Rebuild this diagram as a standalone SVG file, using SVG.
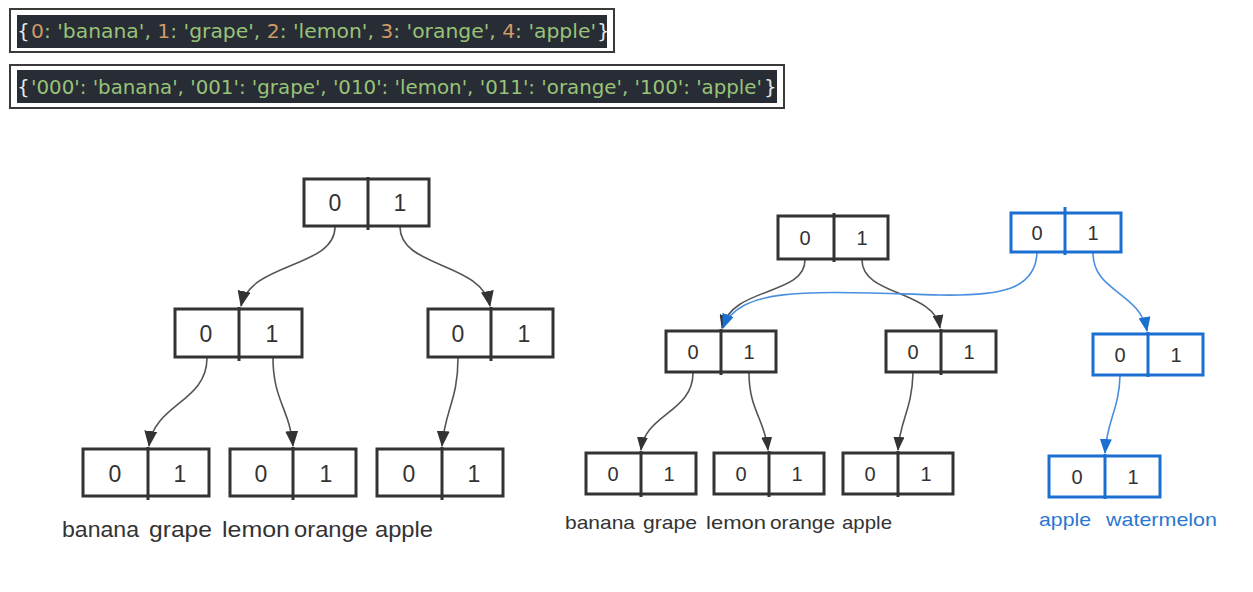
<svg xmlns="http://www.w3.org/2000/svg" width="1253" height="592" viewBox="0 0 1253 592">
<defs>
<style>
.frame{fill:#fff;stroke:#3a3a3a;stroke-width:2}
.code{fill:#282c34}
.ct{font-family:"DejaVu Sans",sans-serif;font-size:20px;fill:#98c379}
.ct2{font-size:19.3px}
.br{font-family:"DejaVu Sans",sans-serif;font-size:20px;fill:#e6e6e6}
.num{fill:#d19a66}
.kb{fill:none;stroke:#333;stroke-width:3}
.bb{fill:none;stroke:#1a6fd0;stroke-width:3}
.dk{stroke:#333;stroke-width:3}
.db{stroke:#1a6fd0;stroke-width:3}
.dg{font-family:"Liberation Sans",Arial,sans-serif;fill:#333;text-anchor:middle}
.dgl{font-size:23px}
.dgr{font-size:20px}
.lab{font-family:"Liberation Sans",Arial,sans-serif;fill:#333}
.labl{font-size:22px}
.labr{font-size:19px}
.labb{font-size:19px;fill:#2a78d0}
.ck{fill:none;stroke:#555;stroke-width:1.6}
.cb{fill:none;stroke:#4a8fde;stroke-width:1.6}
</style>
<marker id="ahk" viewBox="0 0 16 13" refX="15" refY="6.5" markerWidth="16" markerHeight="13" orient="auto" markerUnits="userSpaceOnUse"><path d="M0,0 L16,6.5 L0,13 z" fill="#333"/></marker>
<marker id="ahks" viewBox="0 0 14 11" refX="13" refY="5.5" markerWidth="14" markerHeight="11" orient="auto" markerUnits="userSpaceOnUse"><path d="M0,0 L14,5.5 L0,11 z" fill="#333"/></marker>
<marker id="ahb" viewBox="0 0 15 12" refX="14" refY="6" markerWidth="15" markerHeight="12" orient="auto" markerUnits="userSpaceOnUse"><path d="M0,0 L15,6 L0,12 z" fill="#1a6fd0"/></marker>
</defs>
<rect width="1253" height="592" fill="#fff"/>

<g id="code1">
<rect class="frame" x="10" y="9" width="604" height="43"/>
<rect class="code" x="17" y="15" width="590" height="33"/>
<text class="br" x="17" y="38">{</text>
<text class="ct" x="31" y="38" textLength="565" lengthAdjust="spacingAndGlyphs"><tspan class="num">0</tspan>: 'banana', <tspan class="num">1</tspan>: 'grape', <tspan class="num">2</tspan>: 'lemon', <tspan class="num">3</tspan>: 'orange', <tspan class="num">4</tspan>: 'apple'</text>
<text class="br" x="597" y="38">}</text>
</g>
<g id="code2">
<rect class="frame" x="10" y="65" width="774" height="43"/>
<rect class="code" x="17" y="70" width="760" height="33"/>
<text class="br" x="17" y="94">{</text>
<text class="ct ct2" x="31" y="94" textLength="731" lengthAdjust="spacingAndGlyphs">'000': 'banana', '001': 'grape', '010': 'lemon', '011': 'orange', '100': 'apple'</text>
<text class="br" x="764" y="94">}</text>
</g>

<g id="connectors">
<path class="ck" d="M335 227 C335 268 250 262 241 306" marker-end="url(#ahk)"/>
<path class="ck" d="M400 227 C400 268 482 262 490 306" marker-end="url(#ahk)"/>
<path class="ck" d="M207 358 C207 402 154 404 149 446" marker-end="url(#ahk)"/>
<path class="ck" d="M273 358 C273 400 290 410 293 446" marker-end="url(#ahk)"/>
<path class="ck" d="M458 358 C458 400 445 410 442 446" marker-end="url(#ahk)"/>

<path class="ck" d="M805 260 C805 296 732 286 722 328" marker-end="url(#ahks)"/>
<path class="ck" d="M862 260 C862 296 934 290 940 328" marker-end="url(#ahks)"/>
<path class="ck" d="M693 373 C693 412 645 414 641 450" marker-end="url(#ahks)"/>
<path class="ck" d="M749 373 C749 410 765 420 768 450" marker-end="url(#ahks)"/>
<path class="ck" d="M913 373 C912 410 900 420 898 450" marker-end="url(#ahks)"/>

<path class="cb" d="M1037 253 C1035 290 1000 296 940 295 C820 292 740 284 723 328" marker-end="url(#ahb)"/>
<path class="cb" d="M1093 253 C1093 292 1140 292 1147 331" marker-end="url(#ahb)"/>
<path class="cb" d="M1120 376 C1119 410 1107 420 1105 453" marker-end="url(#ahb)"/>
</g>

<g id="L-root">
<rect class="kb" x="304" y="179" width="125" height="47"/>
<line class="dk" x1="368" y1="177" x2="368" y2="230"/>
<text class="dg dgl" x="335" y="211">0</text><text class="dg dgl" x="400" y="211">1</text>
</g>
<g id="L-mid-0">
<rect class="kb" x="175" y="309" width="127" height="48"/>
<line class="dk" x1="239" y1="307" x2="239" y2="361"/>
<text class="dg dgl" x="206" y="342">0</text><text class="dg dgl" x="272" y="342">1</text>
</g>
<g id="L-mid-1">
<rect class="kb" x="428" y="309" width="125" height="48"/>
<line class="dk" x1="491" y1="307" x2="491" y2="361"/>
<text class="dg dgl" x="458" y="342">0</text><text class="dg dgl" x="524" y="342">1</text>
</g>
<g id="L-leaf-0">
<rect class="kb" x="83" y="449" width="126" height="47"/>
<line class="dk" x1="148" y1="447" x2="148" y2="500"/>
<text class="dg dgl" x="115" y="482">0</text><text class="dg dgl" x="180" y="482">1</text>
</g>
<g id="L-leaf-1">
<rect class="kb" x="230" y="449" width="126" height="47"/>
<line class="dk" x1="293" y1="447" x2="293" y2="500"/>
<text class="dg dgl" x="261" y="482">0</text><text class="dg dgl" x="326" y="482">1</text>
</g>
<g id="L-leaf-2">
<rect class="kb" x="377" y="449" width="126" height="47"/>
<line class="dk" x1="442" y1="447" x2="442" y2="500"/>
<text class="dg dgl" x="409" y="482">0</text><text class="dg dgl" x="474" y="482">1</text>
</g>
<g id="L-labels">
<text class="lab labl" x="62" y="537" textLength="77" lengthAdjust="spacingAndGlyphs">banana</text>
<text class="lab labl" x="149" y="537" textLength="63" lengthAdjust="spacingAndGlyphs">grape</text>
<text class="lab labl" x="222" y="537" textLength="68" lengthAdjust="spacingAndGlyphs">lemon</text>
<text class="lab labl" x="294" y="537" textLength="74" lengthAdjust="spacingAndGlyphs">orange</text>
<text class="lab labl" x="375" y="537" textLength="58" lengthAdjust="spacingAndGlyphs">apple</text>
</g>

<g id="R-root">
<rect class="kb" x="778" y="216" width="110" height="43"/>
<line class="dk" x1="834" y1="213" x2="834" y2="262"/>
<text class="dg dgr" x="805" y="245">0</text><text class="dg dgr" x="862" y="245">1</text>
</g>
<g id="B-root">
<rect class="bb" x="1011" y="213" width="110" height="39"/>
<line class="db" x1="1065" y1="207" x2="1065" y2="255"/>
<text class="dg dgr" x="1037" y="240">0</text><text class="dg dgr" x="1093" y="240">1</text>
</g>
<g id="R-mid-0">
<rect class="kb" x="666" y="331" width="110" height="41"/>
<line class="dk" x1="721" y1="329" x2="721" y2="375"/>
<text class="dg dgr" x="693" y="359">0</text><text class="dg dgr" x="749" y="359">1</text>
</g>
<g id="R-mid-1">
<rect class="kb" x="886" y="331" width="110" height="41"/>
<line class="dk" x1="941" y1="329" x2="941" y2="375"/>
<text class="dg dgr" x="913" y="359">0</text><text class="dg dgr" x="969" y="359">1</text>
</g>
<g id="B-mid">
<rect class="bb" x="1093" y="334" width="110" height="41"/>
<line class="db" x1="1148" y1="332" x2="1148" y2="377"/>
<text class="dg dgr" x="1120" y="362">0</text><text class="dg dgr" x="1176" y="362">1</text>
</g>
<g id="R-leaf-0">
<rect class="kb" x="586" y="453" width="110" height="41"/>
<line class="dk" x1="641" y1="451" x2="641" y2="497"/>
<text class="dg dgr" x="613" y="481">0</text><text class="dg dgr" x="669" y="481">1</text>
</g>
<g id="R-leaf-1">
<rect class="kb" x="714" y="453" width="110" height="41"/>
<line class="dk" x1="769" y1="451" x2="769" y2="497"/>
<text class="dg dgr" x="741" y="481">0</text><text class="dg dgr" x="797" y="481">1</text>
</g>
<g id="R-leaf-2">
<rect class="kb" x="843" y="453" width="110" height="41"/>
<line class="dk" x1="898" y1="451" x2="898" y2="497"/>
<text class="dg dgr" x="870" y="481">0</text><text class="dg dgr" x="926" y="481">1</text>
</g>
<g id="B-leaf">
<rect class="bb" x="1049" y="456" width="111" height="41"/>
<line class="db" x1="1105" y1="454" x2="1105" y2="499"/>
<text class="dg dgr" x="1077" y="484">0</text><text class="dg dgr" x="1133" y="484">1</text>
</g>
<g id="R-labels">
<text class="lab labr" x="565" y="529" textLength="70" lengthAdjust="spacingAndGlyphs">banana</text>
<text class="lab labr" x="643" y="529" textLength="54" lengthAdjust="spacingAndGlyphs">grape</text>
<text class="lab labr" x="706" y="529" textLength="60" lengthAdjust="spacingAndGlyphs">lemon</text>
<text class="lab labr" x="770" y="529" textLength="65" lengthAdjust="spacingAndGlyphs">orange</text>
<text class="lab labr" x="842" y="529" textLength="50" lengthAdjust="spacingAndGlyphs">apple</text>
<text class="lab labb" x="1039" y="526" textLength="52" lengthAdjust="spacingAndGlyphs">apple</text>
<text class="lab labb" x="1106" y="526" textLength="111" lengthAdjust="spacingAndGlyphs">watermelon</text>
</g>
</svg>
